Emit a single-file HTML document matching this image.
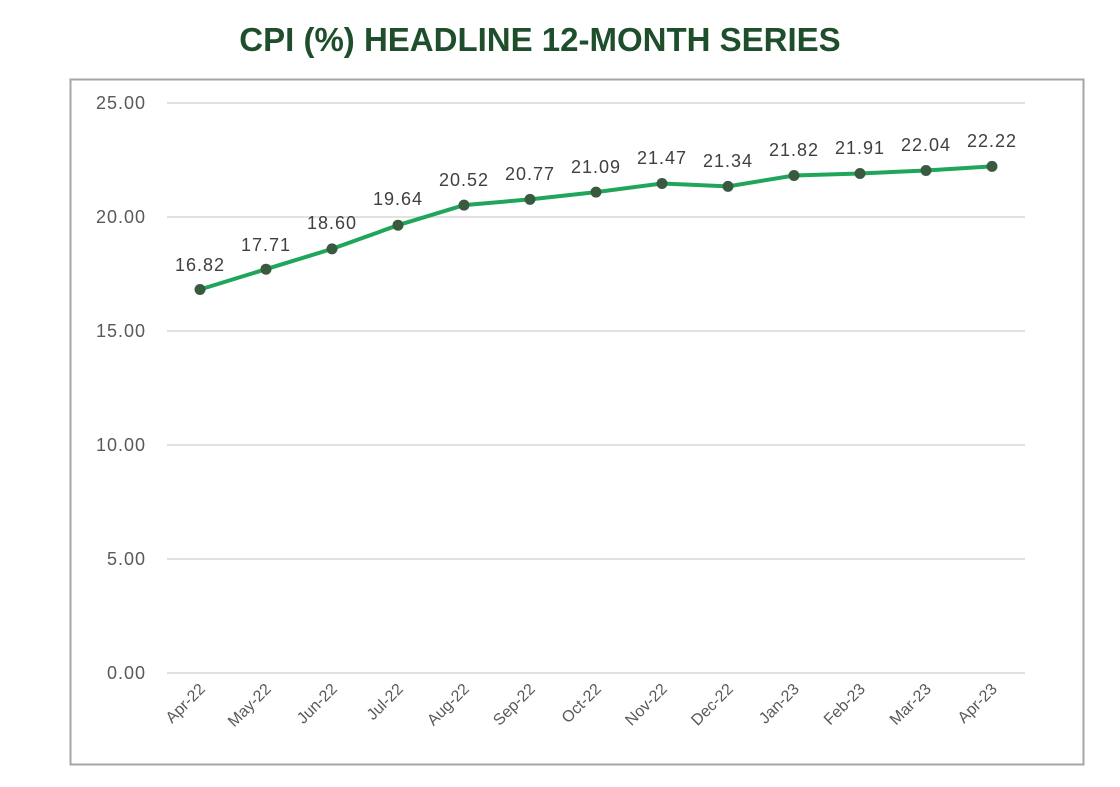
<!DOCTYPE html>
<html><head><style>body{margin:0;background:#fff}</style></head><body>
<svg width="1120" height="782" xmlns="http://www.w3.org/2000/svg" font-family="Liberation Sans, sans-serif">
<rect width="1120" height="782" fill="#fff"/>
<text x="540" y="51" text-anchor="middle" font-size="33" font-weight="bold" fill="#1f4e2c">CPI (%)  HEADLINE 12-MONTH SERIES</text>
<rect x="70.5" y="79.5" width="1013" height="685" fill="none" stroke="#a6a6a6" stroke-width="2"/>
<g stroke="#d9d9d9" stroke-width="1.5">
<line x1="167" x2="1025" y1="103" y2="103"/><line x1="167" x2="1025" y1="217" y2="217"/>
<line x1="167" x2="1025" y1="331" y2="331"/><line x1="167" x2="1025" y1="445" y2="445"/>
<line x1="167" x2="1025" y1="559" y2="559"/><line x1="167" x2="1025" y1="673" y2="673"/>
</g>
<g font-size="18" fill="#595959" text-anchor="end" letter-spacing="1">
<text x="146" y="109">25.00</text><text x="146" y="223">20.00</text><text x="146" y="337">15.00</text>
<text x="146" y="451">10.00</text><text x="146" y="565">5.00</text><text x="146" y="679">0.00</text>
</g>
<polyline points="200,289.5 266,269.2 332,248.9 398,225.2 464,205.1 530,199.4 596,192.1 662,183.5 728,186.4 794,175.5 860,173.5 926,170.5 992,166.4" fill="none" stroke="#1fa65a" stroke-width="4"/>
<g fill="#3a5a40">
<circle cx="200" cy="289.5" r="5.5"/><circle cx="266" cy="269.2" r="5.5"/><circle cx="332" cy="248.9" r="5.5"/>
<circle cx="398" cy="225.2" r="5.5"/><circle cx="464" cy="205.1" r="5.5"/><circle cx="530" cy="199.4" r="5.5"/>
<circle cx="596" cy="192.1" r="5.5"/><circle cx="662" cy="183.5" r="5.5"/><circle cx="728" cy="186.4" r="5.5"/>
<circle cx="794" cy="175.5" r="5.5"/><circle cx="860" cy="173.5" r="5.5"/><circle cx="926" cy="170.5" r="5.5"/>
<circle cx="992" cy="166.4" r="5.5"/>
</g>
<g font-size="18" fill="#404040" text-anchor="middle" letter-spacing="1">
<text x="200" y="271">16.82</text><text x="266" y="251">17.71</text><text x="332" y="229">18.60</text>
<text x="398" y="205">19.64</text><text x="464" y="186">20.52</text><text x="530" y="180">20.77</text>
<text x="596" y="173">21.09</text><text x="662" y="164">21.47</text><text x="728" y="167">21.34</text>
<text x="794" y="156">21.82</text><text x="860" y="154">21.91</text><text x="926" y="151">22.04</text>
<text x="992" y="147">22.22</text>
</g>
<g font-size="16" fill="#595959" text-anchor="end">
<text transform="translate(206,690) rotate(-45)">Apr-22</text>
<text transform="translate(272,690) rotate(-45)">May-22</text>
<text transform="translate(338,690) rotate(-45)">Jun-22</text>
<text transform="translate(404,690) rotate(-45)">Jul-22</text>
<text transform="translate(470,690) rotate(-45)">Aug-22</text>
<text transform="translate(536,690) rotate(-45)">Sep-22</text>
<text transform="translate(602,690) rotate(-45)">Oct-22</text>
<text transform="translate(668,690) rotate(-45)">Nov-22</text>
<text transform="translate(734,690) rotate(-45)">Dec-22</text>
<text transform="translate(800,690) rotate(-45)">Jan-23</text>
<text transform="translate(866,690) rotate(-45)">Feb-23</text>
<text transform="translate(932,690) rotate(-45)">Mar-23</text>
<text transform="translate(998,690) rotate(-45)">Apr-23</text>
</g>
</svg>
</body></html>
